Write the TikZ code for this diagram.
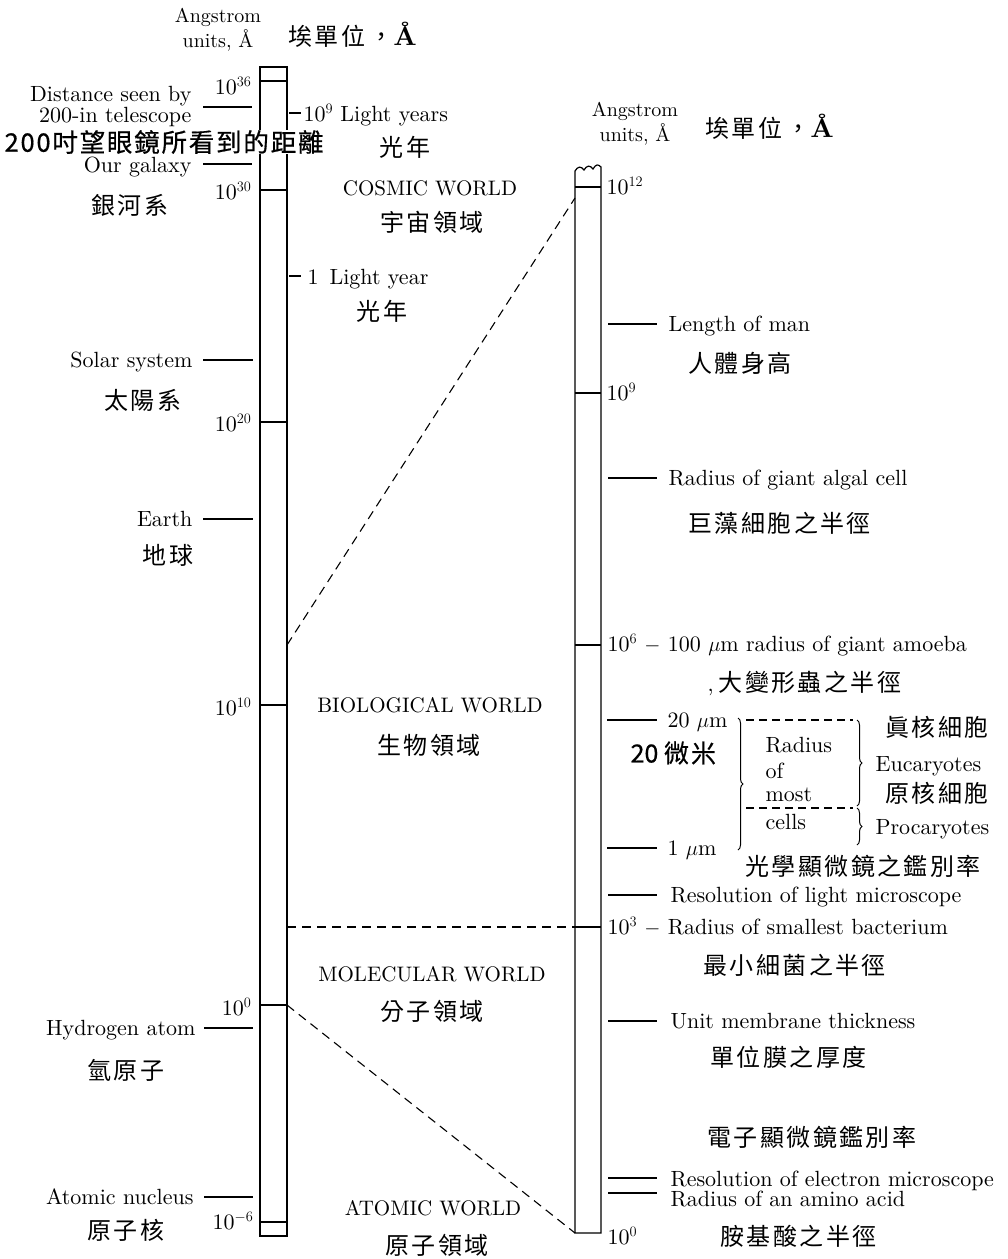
\documentclass[tikz,border=0pt]{standalone}
\usepackage{fontspec}
\usetikzlibrary{decorations.pathreplacing}
\setmainfont{lmroman10}[Extension=.otf, UprightFont=*-regular, BoldFont=*-bold, ItalicFont=*-italic, BoldItalicFont=*-bolditalic]
\newfontfamily\cjk[LetterSpace=10]{Noto Sans CJK TC}
\newfontfamily\cjkbig[FakeBold=0.6]{Noto Sans CJK TC}
\newfontfamily\cjkwide[FakeBold=0.6, LetterSpace=7]{Noto Sans CJK TC}
\begin{document}
\begin{tikzpicture}[x=1pt,y=-1pt,
  line width=1.2pt,
  en/.style={font=\fontsize{22}{26}\selectfont, inner sep=0pt},
  wl/.style={font=\fontsize{21}{25}\selectfont, inner sep=0pt},
  zh/.style={font=\cjk\fontsize{24}{28}\selectfont, inner sep=0pt},
  pw/.style={en, anchor=base east},
  rl/.style={en, anchor=base west},
  ll/.style={en, anchor=base east},
  zl/.style={zh, anchor=west},
  link/.style={dash pattern=on 9pt off 6pt, line width=1.1pt},
  cbrace/.style={decorate, decoration={brace, amplitude=5pt}, line width=1pt}]
\useasboundingbox (0,0) rectangle (1008,1259);

% ---------- left bar ----------
\draw (260,67) rectangle (287,1236);
\foreach \y in {81,190,422,705,1005,1222} \draw (260,\y) -- (287,\y);
\coordinate (LbioTop) at (287,645);
\coordinate (LmolTop) at (287,927);
\coordinate (Lzero) at (287,1005);

% ---------- right bar ----------
\draw (575,1233) -- (575,171) .. controls (578,166) and (581,166) .. (584,170)
      .. controls (587,165) and (590,165) .. (593,169)
      .. controls (596,164) and (598,164) .. (601,167) -- (601,1233) -- cycle;
\foreach \y in {187,393,645,927} \draw (575,\y) -- (601,\y);
\coordinate (Rtop) at (575,198);
\coordinate (Rthree) at (575,927);
\coordinate (Rbot) at (575,1233);

% ---------- connecting dashed lines ----------
\draw[link] (LbioTop) -- (Rtop);
\draw[link] (LmolTop) -- (Rthree);
\draw[link] (Lzero) -- (Rbot);

% ---------- headers ----------
\node[en, align=center, font=\fontsize{20}{25}\selectfont] (hdL) at (218,30) {Angstrom\\units, Å};
\node[zl] (hdLz) at (288,35) {埃單位\hspace{4pt}，{\fontsize{27}{28}\selectfont\bfseries\rmfamily Å}};
\node[en, align=center, font=\fontsize{20}{25}\selectfont] (hdR) at (635,124) {Angstrom\\units, Å};
\node[zl] (hdRz) at (705,127) {埃單位\hspace{4pt}，{\fontsize{27}{28}\selectfont\bfseries\rmfamily Å}};

% ---------- powers, left bar ----------
\node[pw] (p36) at (252,94) {10$^{36}$};
\node[pw] (p30) at (252,199) {10$^{30}$};
\node[pw] (p20) at (252,431) {10$^{20}$};
\node[pw] (p10) at (252,715) {10$^{10}$};
\node[pw] (p0) at (252,1015) {10$^{0}$};
\node[pw] (pm6) at (254,1229) {10$^{-6}$};

% ---------- left objects ----------
\draw (203,107) -- (252,107);
\node[en, anchor=east, align=right, font=\fontsize{22}{21}\selectfont] (dist) at (192,106) {Distance seen by\\200-in telescope};
\node[anchor=west, inner sep=0pt, fill=white, font=\cjkwide\fontsize{25.5}{28}\selectfont] (distz) at (4,142) {200吋望眼鏡所看到的距離};
\draw (203,164) -- (252,164);
\node[ll] (gal) at (192,172) {Our galaxy};
\node[zh] (galz) at (130,205) {銀河系};
\draw (203,360) -- (253,360);
\node[ll] (sol) at (193,367) {Solar system};
\node[zh] (solz) at (143,400) {太陽系};
\draw (203,519) -- (253,519);
\node[ll] (earth) at (193,526) {Earth};
\node[zh] (earthz) at (168,555) {地球};
\draw (204,1028) -- (253,1028);
\node[ll] (hyd) at (196,1035) {Hydrogen atom};
\node[zh] (hydz) at (126,1070) {氫原子};
\draw (204,1197) -- (253,1197);
\node[ll] (nuc) at (194,1204) {Atomic nucleus};
\node[zh] (nucz) at (126,1230) {原子核};

% ---------- right of left bar ----------
\draw (289,113) -- (301,113);
\node[rl] (ly9) at (303,121) {10$^{9}$ Light years};
\node[zh] (ly9z) at (405,147) {光年};
\draw (289,276) -- (301,276);
\node[rl] (ly1) at (307,284) {1\hspace{11pt}Light year};
\node[zh] (ly1z) at (382,311) {光年};

% ---------- worlds ----------
\node[wl] (cos) at (430,188) {COSMIC WORLD};
\node[zh] (cosz) at (432,222) {宇宙領域};
\node[wl] (bio) at (430,705) {BIOLOGICAL WORLD};
\node[zh] (bioz) at (429,745) {生物領域};
\node[wl] (mol) at (432,974) {MOLECULAR WORLD};
\node[zh] (molz) at (432,1011) {分子領域};
\node[wl] (ato) at (433,1208) {ATOMIC WORLD};
\node[zh] (atoz) at (437,1245) {原子領域};

% ---------- right bar labels ----------
\node[rl] (r12) at (606,194) {10$^{12}$};
\draw (608,324) -- (657,324);
\node[rl] (man) at (668,331) {Length of man};
\node[zl] (manz) at (688,363) {人體身高};
\node[rl] (r9) at (606,400) {10$^{9}$};
\draw (608,478) -- (657,478);
\node[rl] (alg) at (668,485) {Radius of giant algal cell};
\node[zl] (algz) at (688,523) {巨藻細胞之半徑};
\node[rl] (r6) at (607,651) {10$^{6}$ $-$ 100 $\mu$m radius of giant amoeba};
\node[zl] (r6z) at (707,683) {{\fontsize{22}{25}\selectfont\rmfamily ,}\hspace{5pt}大變形蟲之半徑};
\draw (607,720) -- (657,720);
\node[rl] (m20) at (667,727) {20 $\mu$m};
\node[anchor=west, inner sep=0pt, font=\cjkbig\fontsize{25}{28}\selectfont] (m20z) at (630,753) {20 微\hspace{2pt}米};
\draw (607,848) -- (657,848);
\node[rl] (m1) at (667,855) {1 $\mu$m};
\node[zl] (m1z) at (745,866) {光學顯微鏡之鑑別率};

% braces
\draw[cbrace] (738,718) -- (738,850);
\draw[dash pattern=on 8pt off 5pt, line width=1.1pt] (746,720) -- (853,720);
\draw[dash pattern=on 8pt off 5pt, line width=1.1pt] (746,808) -- (853,808);
\draw[cbrace] (857,720) -- (857,806);
\draw[cbrace] (857,808) -- (857,845);
\node[rl] (rad1) at (765,752) {Radius};
\node[rl] (rad2) at (765,778) {of};
\node[rl] (rad3) at (765,801) {most};
\node[rl] (rad4) at (765,829) {cells};
\node[rl] (euc) at (875,771) {Eucaryotes};
\node[rl] (pro) at (875,834) {Procaryotes};
\node[zl] (eucz) at (885,727) {眞核細胞};
\node[zl] (proz) at (885,793) {原核細胞};

\draw (608,895) -- (657,895);
\node[rl] (lmic) at (670,902) {Resolution of light microscope};
\node[rl] (r3) at (607,934) {10$^{3}$ $-$ Radius of smallest bacterium};
\node[zl] (r3z) at (703,965) {最小細菌之半徑};
\draw (608,1021) -- (657,1021);
\node[rl] (mem) at (670,1028) {Unit membrane thickness};
\node[zl] (memz) at (710,1057) {單位膜之厚度};
\node[zl] (emz) at (707,1137) {電子顯微鏡鑑別率};
\draw (608,1178) -- (657,1178);
\node[rl] (em) at (670,1186) {Resolution of electron microscope};
\draw (608,1193) -- (657,1193);
\node[rl] (amino) at (670,1206) {Radius of an amino acid};
\node[rl] (r0) at (607,1244) {10$^{0}$};
\node[zl] (aminoz) at (720,1236) {胺基酸之半徑};
\end{tikzpicture}
\end{document}
